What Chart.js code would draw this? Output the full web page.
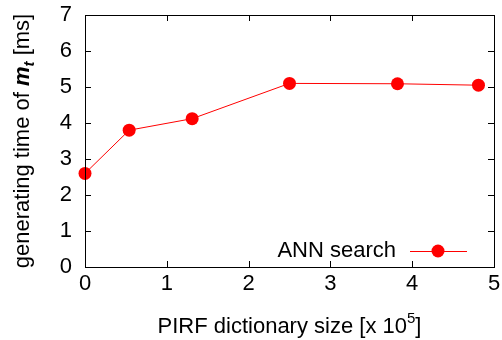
<!DOCTYPE html>
<html>
<head>
<meta charset="utf-8">
<script src="https://cdn.jsdelivr.net/npm/chart.js@4/dist/chart.umd.min.js"></script>
<style>
  html, body { margin: 0; padding: 0; background: #fff; }
  #wrap { width: 502px; height: 340px; }
</style>
</head>
<body>
<div id="wrap"><canvas id="myChart"></canvas></div>
<script>
const dictSize = [0, 0.54, 1.31, 2.5, 3.82, 4.81];
const genTime = [2.6, 3.8, 4.12, 5.1, 5.09, 5.05];
const seriesName = 'ANN search';
const xTicks = [0, 1, 2, 3, 4, 5];
const yTicks = [0, 1, 2, 3, 4, 5, 6, 7];

const FONT = '"Liberation Sans", Arial, sans-serif';
const FS = 22;

// frame, inward ticks, titles and legend
const decor = {
    id: 'decor',
    afterDraw(chart) {
        const ctx = chart.ctx;
        const a = chart.chartArea;
        const xs = chart.scales.x;
        const ys = chart.scales.y;
        ctx.save();
        ctx.strokeStyle = '#000';
        ctx.lineWidth = 1;
        ctx.strokeRect(Math.round(a.left) + 0.5, Math.round(a.top) + 0.5,
            Math.round(a.right - a.left), Math.round(a.bottom - a.top));

        ctx.beginPath();
        xTicks.forEach(v => {
            const px = Math.round(xs.getPixelForValue(v)) + 0.5;
            ctx.moveTo(px, a.bottom); ctx.lineTo(px, a.bottom - 6);
            ctx.moveTo(px, a.top); ctx.lineTo(px, a.top + 6);
        });
        yTicks.forEach(v => {
            const py = Math.round(ys.getPixelForValue(v)) + 0.5;
            ctx.moveTo(a.left, py); ctx.lineTo(a.left + 6, py);
            ctx.moveTo(a.right, py); ctx.lineTo(a.right - 6, py);
        });
        ctx.stroke();

        ctx.fillStyle = '#000';
        ctx.textBaseline = 'alphabetic';

        // x title with superscript
        const big = FS + 'px ' + FONT;
        const small = '15px ' + FONT;
        const t1 = 'PIRF dictionary size [x 10';
        const t2 = '5';
        const t3 = ']';
        ctx.font = big;
        const w1 = ctx.measureText(t1).width;
        const w3 = ctx.measureText(t3).width;
        ctx.font = small;
        const w2 = ctx.measureText(t2).width;
        let x0 = (a.left + a.right) / 2 - (w1 + w2 + w3) / 2;
        const yb = 333;
        ctx.textAlign = 'left';
        ctx.font = big;
        ctx.fillText(t1, x0, yb);
        ctx.font = small;
        ctx.fillText(t2, x0 + w1, yb - 10);
        ctx.font = big;
        ctx.fillText(t3, x0 + w1 + w2, yb);

        // y title, rotated, with bold italic m_t
        const parts = [
            { s: 'generating time of ', f: big, dy: 0 },
            { s: 'm', f: 'italic bold ' + FS + 'px ' + FONT, dy: 0 },
            { s: 't', f: 'italic bold 15px ' + FONT, dy: 5 },
            { s: ' [ms]', f: big, dy: 0 }
        ];
        let total = 0;
        parts.forEach(p => { ctx.font = p.f; p.w = ctx.measureText(p.s).width; total += p.w; });
        ctx.translate(29, (a.top + a.bottom) / 2);
        ctx.rotate(-Math.PI / 2);
        let px = -total / 2;
        parts.forEach(p => {
            ctx.font = p.f;
            ctx.fillText(p.s, px, p.dy);
            px += p.w;
        });
        ctx.setTransform(1, 0, 0, 1, 0, 0);

        // legend
        const ds = chart.data.datasets[0];
        const ly = 251;
        ctx.font = big;
        ctx.textAlign = 'right';
        ctx.textBaseline = 'middle';
        ctx.fillText(ds.label, 396, ly);
        ctx.strokeStyle = ds.borderColor;
        ctx.beginPath();
        ctx.moveTo(410, ly + 0.5); ctx.lineTo(467, ly + 0.5);
        ctx.stroke();
        ctx.fillStyle = ds.pointBackgroundColor;
        ctx.beginPath();
        ctx.arc(438, ly, ds.pointRadius, 0, Math.PI * 2);
        ctx.fill();
        ctx.restore();
    }
};

new Chart('myChart', {
    type: 'line',
    data: {
        datasets: [{
            label: seriesName,
            data: dictSize.map((x, i) => ({ x: x, y: genTime[i] })),
            borderColor: '#ff0000',
            borderWidth: 1,
            pointBackgroundColor: '#ff0000',
            pointBorderColor: '#ff0000',
            pointRadius: 6.5,
            pointBorderWidth: 0,
            tension: 0,
            clip: false
        }]
    },
    options: {
        responsive: true,
        maintainAspectRatio: false,
        animation: false,
        layout: { autoPadding: false, padding: { top: 15, right: 8, left: 0, bottom: 0 } },
        scales: {
            x: {
                type: 'linear',
                min: 0,
                max: 5,
                afterBuildTicks: s => { s.ticks = xTicks.map(v => ({ value: v })); },
                afterFit: s => { s.height = 73; s.paddingLeft = 0; s.paddingRight = 0; },
                grid: { display: false, drawTicks: false },
                border: { display: false },
                ticks: { color: '#000', padding: 4, font: { family: FONT, size: FS } }
            },
            y: {
                min: 0,
                max: 7,
                afterBuildTicks: s => { s.ticks = yTicks.map(v => ({ value: v })); },
                afterFit: s => { s.width = 85; s.paddingTop = 0; s.paddingBottom = 0; },
                grid: { display: false, drawTicks: false },
                border: { display: false },
                ticks: { color: '#000', padding: 13, font: { family: FONT, size: FS } }
            }
        },
        plugins: {
            legend: { display: false },
            tooltip: { enabled: false }
        }
    },
    plugins: [decor]
});
</script>
</body>
</html>
